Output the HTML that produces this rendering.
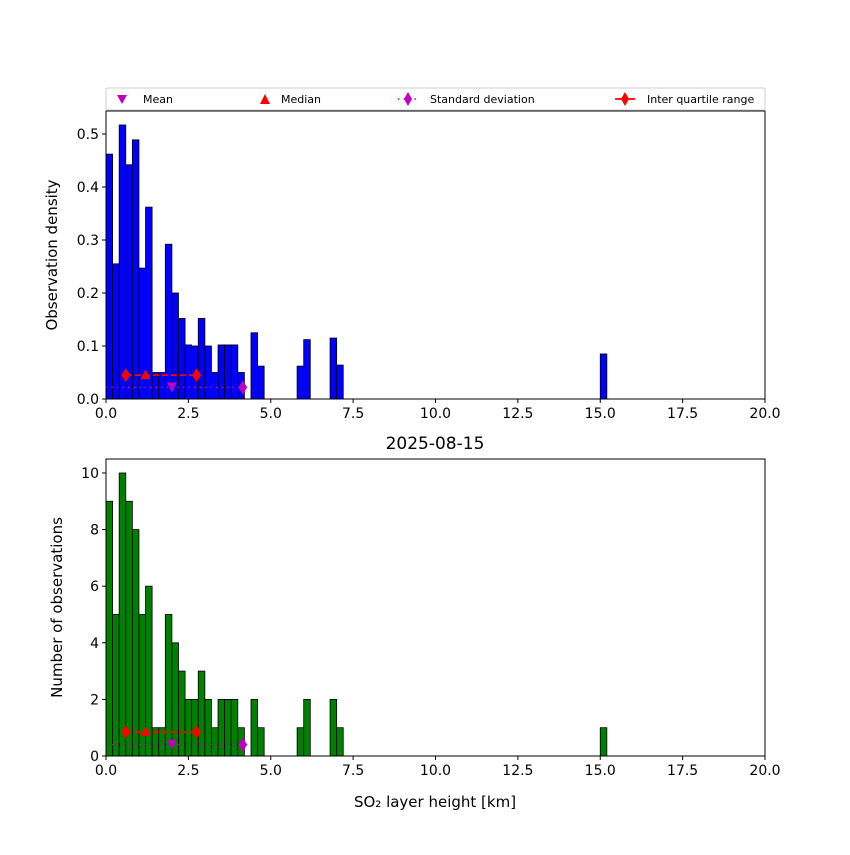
<!DOCTYPE html>
<html><head><meta charset="utf-8"><style>body{margin:0;background:#fff}svg{font-family:"DejaVu Sans","Liberation Sans",sans-serif}</style></head>
<body>
<svg id="c" width="850" height="850" xmlns="http://www.w3.org/2000/svg"></svg>
<script>
const binStarts=[0,0.2,0.4,0.6,0.8,1.0,1.2,1.4,1.6,1.8,2.0,2.2,2.4,2.6,2.8,3.0,3.2,3.4,3.6,3.8,4.0,4.4,4.6,5.8,6.0,6.8,7.0,15.0];
const counts=[9,5,10,9,8,5,6,1,1,5,4,3,2,2,3,2,1,2,2,2,1,2,1,1,2,2,1,1];
const density=[0.462,0.255,0.517,0.442,0.489,0.247,0.362,0.05,0.05,0.292,0.2,0.152,0.102,0.1,0.152,0.1,0.05,0.102,0.102,0.102,0.05,0.125,0.062,0.062,0.112,0.115,0.064,0.085];
const binWidth=0.2;
const xTicks=[0,2.5,5,7.5,10,12.5,15,17.5,20];
const topTicks=[0,0.1,0.2,0.3,0.4,0.5];
const botTicks=[0,2,4,6,8,10];
const stats={mean:2.0,median:1.2,q1:0.6,q3:2.75,stdEnd:4.15};
const statY={top:{iqr:0.045,std:0.022},bot:{iqr:0.85,std:0.4}};
const NS="http://www.w3.org/2000/svg",svg=document.getElementById('c');
function el(t,a,p){const e=document.createElementNS(NS,t);for(const k in a)e.setAttribute(k,a[k]);(p||svg).appendChild(e);return e;}
const X0=106,X1=765;
const xs=v=>X0+(v/20)*(X1-X0);
function panel(name,top,bottom,ymax,ticks,vals,color,ylabel,sy,fmt,lx){
  const g=el('g',{});
  
  
  const ys=v=>bottom-(v/ymax)*(bottom-top);
  vals.forEach((v,i)=>{
    const r=el('rect',{x:xs(binStarts[i]),y:ys(v),width:xs(binWidth)-xs(0),height:bottom-ys(v),fill:color,stroke:'#000','stroke-width':0.8},g);
    
    
  });
  const sl=el('line',{x1:xs(0),x2:xs(stats.stdEnd),y1:ys(sy.std),y2:ys(sy.std),stroke:'#bf00bf','stroke-width':1.5,'stroke-dasharray':'1.5,4'},g);
  
  const il=el('line',{x1:xs(stats.q1),x2:xs(stats.q3),y1:ys(sy.iqr),y2:ys(sy.iqr),stroke:'red','stroke-width':1.8,'stroke-dasharray':'6,3'},g);
  
  const dia=(x,y,c)=>el('polygon',{points:`${x},${y-7} ${x+4.5},${y} ${x},${y+7} ${x-4.5},${y}`,fill:c},g);
  let d=dia(xs(stats.stdEnd),ys(sy.std),'#bf00bf');
  d=dia(xs(stats.q1),ys(sy.iqr),'red');
  d=dia(xs(stats.q3),ys(sy.iqr),'red');
  let x=xs(stats.median),y=ys(sy.iqr);
  const m=el('polygon',{points:`${x},${y-6} ${x+5},${y+4} ${x-5},${y+4}`,fill:'red'},g);
  x=xs(stats.mean);y=ys(sy.std);
  const mn=el('polygon',{points:`${x-5},${y-5} ${x+5},${y-5} ${x},${y+5}`,fill:'#bf00bf'},g);
  el('rect',{x:X0,y:top,width:X1-X0,height:bottom-top,fill:'none',stroke:'#000','stroke-width':1},g);
  xTicks.forEach(t=>{el('line',{x1:xs(t),x2:xs(t),y1:bottom,y2:bottom+4,stroke:'#000'},g);
    const tx=el('text',{x:xs(t),y:bottom+19,'text-anchor':'middle','font-size':14},g);tx.textContent=t.toFixed(1);
    });
  ticks.forEach(t=>{el('line',{x1:X0-4,x2:X0,y1:ys(t),y2:ys(t),stroke:'#000'},g);
    const tx=el('text',{x:X0-7,y:ys(t)+5,'text-anchor':'end','font-size':14},g);tx.textContent=fmt(t);
    });
  const yl=el('text',{transform:`translate(${lx},${(top+bottom)/2}) rotate(-90)`,'text-anchor':'middle','font-size':15},g);yl.textContent=ylabel;
  
}
panel('density',111,399,0.5434,topTicks,density,'#0000ff','Observation density',statY.top,t=>t.toFixed(1),57);
panel('count',459,756,10.494,botTicks,counts,'#008000','Number of observations',statY.bot,t=>String(t),62);
let t=el('text',{x:435,y:449,'text-anchor':'middle','font-size':17});t.textContent='2025-08-15';
t=el('text',{x:435,y:807,'text-anchor':'middle','font-size':15});t.textContent='SO₂ layer height [km]';
const lg=el('g',{});
el('rect',{x:106,y:88,width:659,height:22,fill:'#fff',stroke:'#ccc',rx:2},lg);
el('polygon',{points:'117,95 127,95 122,104',fill:'#bf00bf'},lg);
el('polygon',{points:'260,104 270,104 265,94',fill:'red'},lg);
el('line',{x1:398,x2:418,y1:99,y2:99,stroke:'#bf00bf','stroke-width':1.5,'stroke-dasharray':'1.5,4'},lg);
el('polygon',{points:'408,92 412,99 408,106 404,99',fill:'#bf00bf'},lg);
el('line',{x1:615,x2:635,y1:99,y2:99,stroke:'red','stroke-width':1.8},lg);
el('polygon',{points:'625,92 629,99 625,106 621,99',fill:'red'},lg);
[['Mean',143],['Median',281],['Standard deviation',430],['Inter quartile range',647]].forEach(([s,x])=>{
  const e=el('text',{x:x,y:103,'font-size':11},lg);e.textContent=s;
  });
</script>
</body></html>
